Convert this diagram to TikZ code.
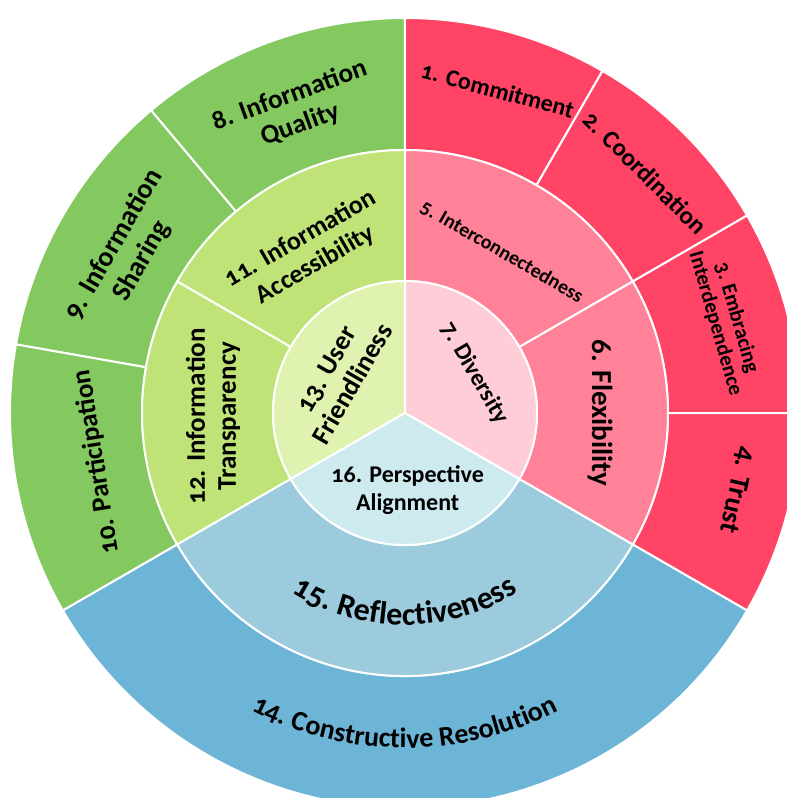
\documentclass[tikz,border=0pt]{standalone}
\usepackage{fontspec}
\setmainfont{Carlito}[Numbers=OldStyle]
\usetikzlibrary{decorations.text}

\definecolor{redouter}{HTML}{FF4466}
\definecolor{redmid}{HTML}{FF8298}
\definecolor{redinner}{HTML}{FFCDD7}
\definecolor{greenouter}{HTML}{84C95F}
\definecolor{greenmid}{HTML}{BFE377}
\definecolor{greeninner}{HTML}{E0F2B0}
\definecolor{blueouter}{HTML}{6DB5D6}
\definecolor{bluemid}{HTML}{9BCBDD}
\definecolor{blueinner}{HTML}{CDEBEF}

% one piece of a ring: start angle, end angle, inner radius, outer radius, colour
\newcommand{\ringpart}[5]{%
  \fill[#5, draw=white, line width=2pt] (#1:#3) arc[start angle=#1, end angle=#2, radius=#3]
    -- (#2:#4) arc[start angle=#2, end angle=#1, radius=#4] -- cycle;}

\begin{document}
\begin{tikzpicture}[
    lbl/.style 2 args={align=center, inner sep=0pt, font=\bfseries\fontsize{#1}{#2}\selectfont}]
  \useasboundingbox (-405pt,-385pt) rectangle (382pt,413pt);
  \clip (-405pt,-385pt) rectangle (382pt,413pt);

  % Outer ring
  \ringpart{60}{90}{263pt}{395pt}{redouter}
  \ringpart{30}{60}{263pt}{395pt}{redouter}
  \ringpart{0}{30}{263pt}{395pt}{redouter}
  \ringpart{-30}{0}{263pt}{395pt}{redouter}
  \ringpart{90}{130}{263pt}{395pt}{greenouter}
  \ringpart{130}{170}{263pt}{395pt}{greenouter}
  \ringpart{170}{210}{263pt}{395pt}{greenouter}
  \ringpart{210}{330}{263pt}{395pt}{blueouter}

  % Middle ring
  \ringpart{30}{90}{132pt}{263pt}{redmid}
  \ringpart{-30}{30}{132pt}{263pt}{redmid}
  \ringpart{90}{150}{132pt}{263pt}{greenmid}
  \ringpart{150}{210}{132pt}{263pt}{greenmid}
  \ringpart{210}{330}{132pt}{263pt}{bluemid}

  % Inner circle
  \ringpart{-30}{90}{0pt}{132pt}{redinner}
  \ringpart{90}{210}{0pt}{132pt}{greeninner}
  \ringpart{210}{330}{0pt}{132pt}{blueinner}

  % Red labels
  \node[lbl={24}{28}, rotate=-15] (commit) at (74:336pt) {1. Commitment};
  \node[lbl={25}{29}, rotate=-45] (coord) at (45:340pt) {2. Coordination};
  \node[lbl={21}{22}, rotate=-74] (embrace) at (16:334pt) {3. Embracing\\Interdependence};
  \node[lbl={28}{32}, rotate=-103] (trust) at (-13:341pt) {4. Trust};
  \node[lbl={20}{24}, rotate=-30] (inter) at (59:188pt) {5. Interconnectedness};
  \node[lbl={29}{33}, rotate=-90] (flex) at (0:195pt) {6. Flexibility};
  \node[lbl={24}{28}, rotate=-60] (divers) at (30:80pt) {7. Diversity};

  % Green labels
  \node[lbl={27}{31}, rotate=20] (quality) at (110:322pt) {8. Information\\Quality};
  \node[lbl={28}{32}, rotate=60] (sharing) at (150:320pt) {9. Information\\Sharing};
  \node[lbl={27}{31}, rotate=99] (partic) at (189:312pt) {10. Participation};
  \node[lbl={26}{30}, rotate=30] (access) at (121:188pt) {11. Information\\Accessibility};
  \node[lbl={27}{31}, rotate=90] (transp) at (181:192pt) {12. Information\\Transparency};
  \node[lbl={27}{30}, rotate=60] (user) at (151:75pt) {13. User\\Friendliness};

  % Blue labels
  \path[decorate, decoration={text along path, text align=center,
      text={|\bfseries\fontsize{28}{32}\selectfont|14. Constructive Resolution}}]
    (235:335pt) arc[start angle=235, end angle=305, radius=335pt];
  \path[decorate, decoration={text along path, text align=center,
      text={|\bfseries\fontsize{32}{36}\selectfont|15. Reflectiveness}}]
    (225:212pt) arc[start angle=225, end angle=315, radius=212pt];
  \node[lbl={24}{28}] (persp) at (272:77pt) {16. Perspective\\Alignment};
\end{tikzpicture}
\end{document}
